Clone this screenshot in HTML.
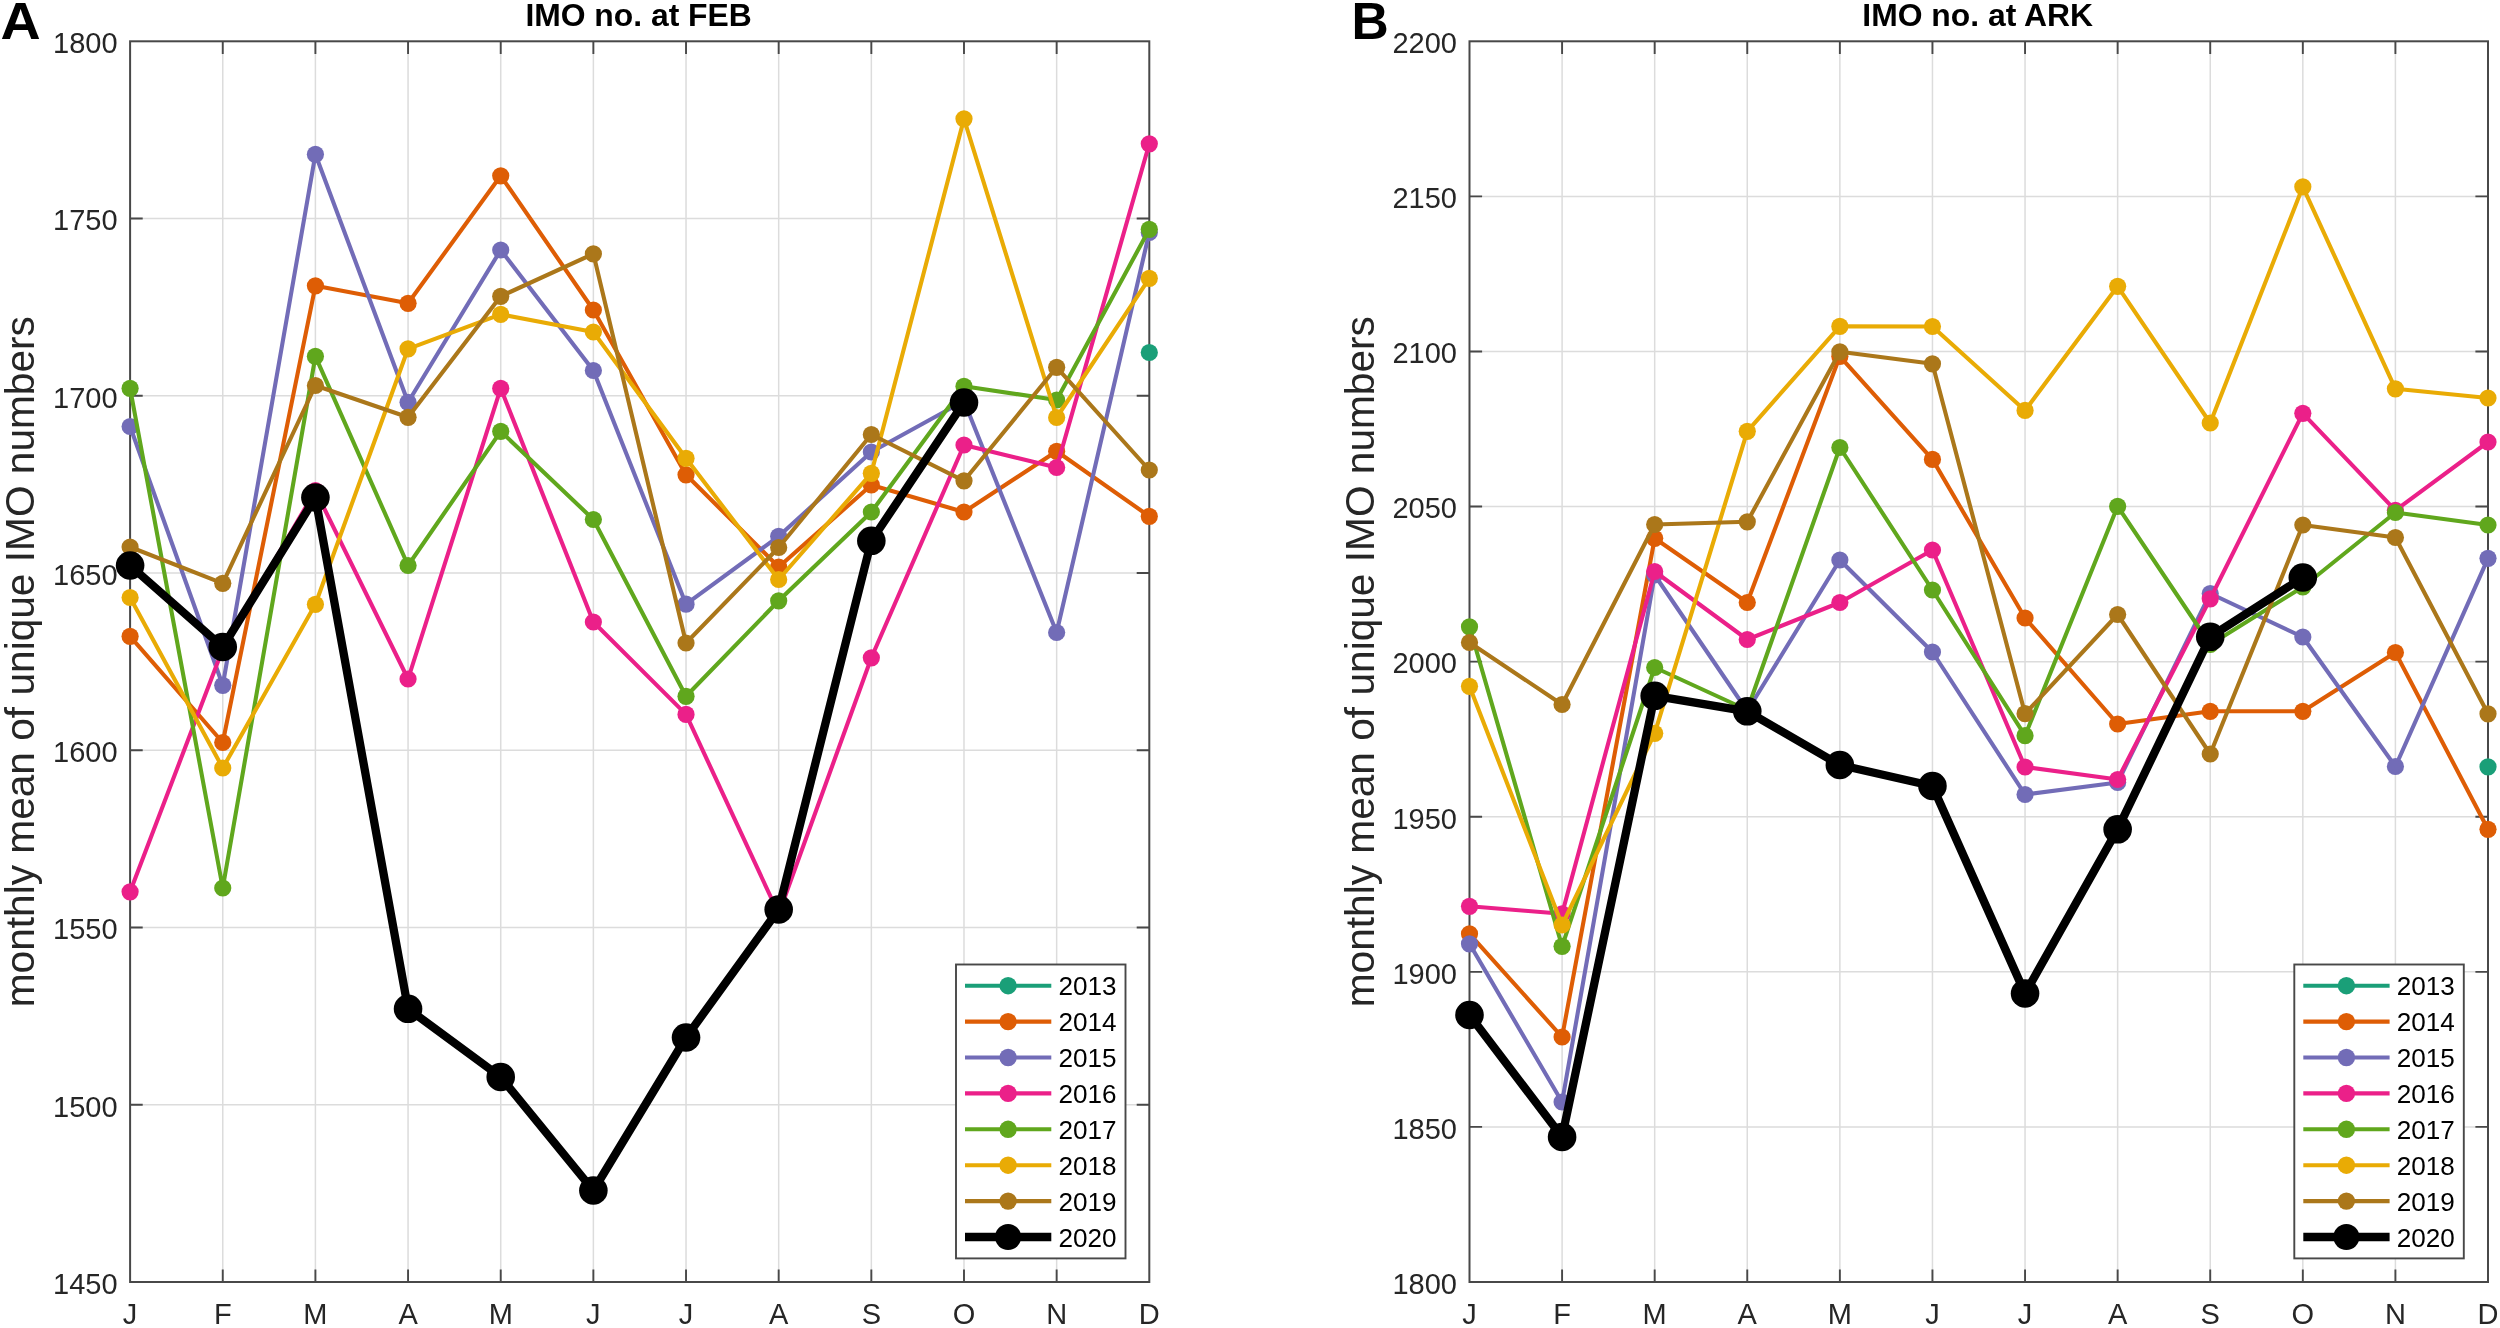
<!DOCTYPE html>
<html lang="en"><head><meta charset="utf-8"><title>IMO numbers at FEB and ARK</title>
<style>html,body{margin:0;padding:0;background:#fff}body{width:2500px;height:1328px;overflow:hidden}svg{display:block;filter:blur(0.55px)}</style>
</head><body>
<svg width="2500" height="1328" viewBox="0 0 2500 1328" font-family='"Liberation Sans", Arial, Helvetica, sans-serif'>
<rect width="2500" height="1328" fill="#fff"/>
<path d="M222.75 41.3V1282M315.41 41.3V1282M408.06 41.3V1282M500.72 41.3V1282M593.37 41.3V1282M686.03 41.3V1282M778.68 41.3V1282M871.34 41.3V1282M963.99 41.3V1282M1056.65 41.3V1282M130.1 218.54H1149.3M130.1 395.79H1149.3M130.1 573.03H1149.3M130.1 750.27H1149.3M130.1 927.51H1149.3M130.1 1104.76H1149.3" stroke="#dcdcdc" stroke-width="1.5" fill="none"/>
<path d="M222.75 1282v-12.6M222.75 41.3v12.6M315.41 1282v-12.6M315.41 41.3v12.6M408.06 1282v-12.6M408.06 41.3v12.6M500.72 1282v-12.6M500.72 41.3v12.6M593.37 1282v-12.6M593.37 41.3v12.6M686.03 1282v-12.6M686.03 41.3v12.6M778.68 1282v-12.6M778.68 41.3v12.6M871.34 1282v-12.6M871.34 41.3v12.6M963.99 1282v-12.6M963.99 41.3v12.6M1056.65 1282v-12.6M1056.65 41.3v12.6M130.1 218.54h12.6M1149.3 218.54h-12.6M130.1 395.79h12.6M1149.3 395.79h-12.6M130.1 573.03h12.6M1149.3 573.03h-12.6M130.1 750.27h12.6M1149.3 750.27h-12.6M130.1 927.51h12.6M1149.3 927.51h-12.6M130.1 1104.76h12.6M1149.3 1104.76h-12.6" stroke="#484848" stroke-width="1.9" fill="none"/>
<rect x="130.1" y="41.3" width="1019.2" height="1240.7" fill="none" stroke="#484848" stroke-width="2"/>
<g stroke="#1a9f78" fill="#1a9f78"><circle cx="1149.3" cy="352.5" r="8.6" stroke="none"/></g>
<g stroke="#de5d05" fill="#de5d05"><polyline points="130.1,636.3 222.75,742.5 315.41,285.8 408.06,303.3 500.72,175.8 593.37,310 686.03,474.8 778.68,567 871.34,485 963.99,512 1056.65,451.3 1149.3,516.3" fill="none" stroke-width="4.1" stroke-linejoin="round"/><circle cx="130.1" cy="636.3" r="8.6" stroke="none"/><circle cx="222.75" cy="742.5" r="8.6" stroke="none"/><circle cx="315.41" cy="285.8" r="8.6" stroke="none"/><circle cx="408.06" cy="303.3" r="8.6" stroke="none"/><circle cx="500.72" cy="175.8" r="8.6" stroke="none"/><circle cx="593.37" cy="310" r="8.6" stroke="none"/><circle cx="686.03" cy="474.8" r="8.6" stroke="none"/><circle cx="778.68" cy="567" r="8.6" stroke="none"/><circle cx="871.34" cy="485" r="8.6" stroke="none"/><circle cx="963.99" cy="512" r="8.6" stroke="none"/><circle cx="1056.65" cy="451.3" r="8.6" stroke="none"/><circle cx="1149.3" cy="516.3" r="8.6" stroke="none"/></g>
<g stroke="#726cb7" fill="#726cb7"><polyline points="130.1,426.5 222.75,685.3 315.41,154.3 408.06,402.3 500.72,250 593.37,370.5 686.03,604.2 778.68,536.3 871.34,452 963.99,401 1056.65,632.5 1149.3,232.5" fill="none" stroke-width="4.1" stroke-linejoin="round"/><circle cx="130.1" cy="426.5" r="8.6" stroke="none"/><circle cx="222.75" cy="685.3" r="8.6" stroke="none"/><circle cx="315.41" cy="154.3" r="8.6" stroke="none"/><circle cx="408.06" cy="402.3" r="8.6" stroke="none"/><circle cx="500.72" cy="250" r="8.6" stroke="none"/><circle cx="593.37" cy="370.5" r="8.6" stroke="none"/><circle cx="686.03" cy="604.2" r="8.6" stroke="none"/><circle cx="778.68" cy="536.3" r="8.6" stroke="none"/><circle cx="871.34" cy="452" r="8.6" stroke="none"/><circle cx="963.99" cy="401" r="8.6" stroke="none"/><circle cx="1056.65" cy="632.5" r="8.6" stroke="none"/><circle cx="1149.3" cy="232.5" r="8.6" stroke="none"/></g>
<g stroke="#eb2089" fill="#eb2089"><polyline points="130.1,891.8 222.75,649 315.41,490.5 408.06,679 500.72,388.3 593.37,622 686.03,714.4 778.68,914 871.34,657.8 963.99,445 1056.65,467.5 1149.3,143.8" fill="none" stroke-width="4.1" stroke-linejoin="round"/><circle cx="130.1" cy="891.8" r="8.6" stroke="none"/><circle cx="222.75" cy="649" r="8.6" stroke="none"/><circle cx="315.41" cy="490.5" r="8.6" stroke="none"/><circle cx="408.06" cy="679" r="8.6" stroke="none"/><circle cx="500.72" cy="388.3" r="8.6" stroke="none"/><circle cx="593.37" cy="622" r="8.6" stroke="none"/><circle cx="686.03" cy="714.4" r="8.6" stroke="none"/><circle cx="778.68" cy="914" r="8.6" stroke="none"/><circle cx="871.34" cy="657.8" r="8.6" stroke="none"/><circle cx="963.99" cy="445" r="8.6" stroke="none"/><circle cx="1056.65" cy="467.5" r="8.6" stroke="none"/><circle cx="1149.3" cy="143.8" r="8.6" stroke="none"/></g>
<g stroke="#60a71d" fill="#60a71d"><polyline points="130.1,388.3 222.75,888 315.41,356.3 408.06,565.5 500.72,431.3 593.37,519.5 686.03,696.3 778.68,600.8 871.34,512 963.99,386.3 1056.65,400 1149.3,229.3" fill="none" stroke-width="4.1" stroke-linejoin="round"/><circle cx="130.1" cy="388.3" r="8.6" stroke="none"/><circle cx="222.75" cy="888" r="8.6" stroke="none"/><circle cx="315.41" cy="356.3" r="8.6" stroke="none"/><circle cx="408.06" cy="565.5" r="8.6" stroke="none"/><circle cx="500.72" cy="431.3" r="8.6" stroke="none"/><circle cx="593.37" cy="519.5" r="8.6" stroke="none"/><circle cx="686.03" cy="696.3" r="8.6" stroke="none"/><circle cx="778.68" cy="600.8" r="8.6" stroke="none"/><circle cx="871.34" cy="512" r="8.6" stroke="none"/><circle cx="963.99" cy="386.3" r="8.6" stroke="none"/><circle cx="1056.65" cy="400" r="8.6" stroke="none"/><circle cx="1149.3" cy="229.3" r="8.6" stroke="none"/></g>
<g stroke="#e9ab05" fill="#e9ab05"><polyline points="130.1,597.5 222.75,768 315.41,604.3 408.06,348.8 500.72,314.3 593.37,332 686.03,458.3 778.68,579.5 871.34,473.3 963.99,118.8 1056.65,417.5 1149.3,278.3" fill="none" stroke-width="4.1" stroke-linejoin="round"/><circle cx="130.1" cy="597.5" r="8.6" stroke="none"/><circle cx="222.75" cy="768" r="8.6" stroke="none"/><circle cx="315.41" cy="604.3" r="8.6" stroke="none"/><circle cx="408.06" cy="348.8" r="8.6" stroke="none"/><circle cx="500.72" cy="314.3" r="8.6" stroke="none"/><circle cx="593.37" cy="332" r="8.6" stroke="none"/><circle cx="686.03" cy="458.3" r="8.6" stroke="none"/><circle cx="778.68" cy="579.5" r="8.6" stroke="none"/><circle cx="871.34" cy="473.3" r="8.6" stroke="none"/><circle cx="963.99" cy="118.8" r="8.6" stroke="none"/><circle cx="1056.65" cy="417.5" r="8.6" stroke="none"/><circle cx="1149.3" cy="278.3" r="8.6" stroke="none"/></g>
<g stroke="#ab771a" fill="#ab771a"><polyline points="130.1,547 222.75,583.3 315.41,385.5 408.06,417.3 500.72,296.3 593.37,253.8 686.03,643 778.68,547.5 871.34,434.5 963.99,480.8 1056.65,367.3 1149.3,470" fill="none" stroke-width="4.1" stroke-linejoin="round"/><circle cx="130.1" cy="547" r="8.6" stroke="none"/><circle cx="222.75" cy="583.3" r="8.6" stroke="none"/><circle cx="315.41" cy="385.5" r="8.6" stroke="none"/><circle cx="408.06" cy="417.3" r="8.6" stroke="none"/><circle cx="500.72" cy="296.3" r="8.6" stroke="none"/><circle cx="593.37" cy="253.8" r="8.6" stroke="none"/><circle cx="686.03" cy="643" r="8.6" stroke="none"/><circle cx="778.68" cy="547.5" r="8.6" stroke="none"/><circle cx="871.34" cy="434.5" r="8.6" stroke="none"/><circle cx="963.99" cy="480.8" r="8.6" stroke="none"/><circle cx="1056.65" cy="367.3" r="8.6" stroke="none"/><circle cx="1149.3" cy="470" r="8.6" stroke="none"/></g>
<g stroke="#000000" fill="#000000"><polyline points="130.1,565.5 222.75,647 315.41,497.5 408.06,1008.8 500.72,1077 593.37,1190.5 686.03,1037.5 778.68,909.5 871.34,540.8 963.99,402.5" fill="none" stroke-width="8.3" stroke-linejoin="round"/><circle cx="130.1" cy="565.5" r="14.3" stroke="none"/><circle cx="222.75" cy="647" r="14.3" stroke="none"/><circle cx="315.41" cy="497.5" r="14.3" stroke="none"/><circle cx="408.06" cy="1008.8" r="14.3" stroke="none"/><circle cx="500.72" cy="1077" r="14.3" stroke="none"/><circle cx="593.37" cy="1190.5" r="14.3" stroke="none"/><circle cx="686.03" cy="1037.5" r="14.3" stroke="none"/><circle cx="778.68" cy="909.5" r="14.3" stroke="none"/><circle cx="871.34" cy="540.8" r="14.3" stroke="none"/><circle cx="963.99" cy="402.5" r="14.3" stroke="none"/></g>
<g font-size="29.0" fill="#262626"><text x="117.6" y="53.1" text-anchor="end">1800</text><text x="117.6" y="230.34" text-anchor="end">1750</text><text x="117.6" y="407.59" text-anchor="end">1700</text><text x="117.6" y="584.83" text-anchor="end">1650</text><text x="117.6" y="762.07" text-anchor="end">1600</text><text x="117.6" y="939.31" text-anchor="end">1550</text><text x="117.6" y="1116.56" text-anchor="end">1500</text><text x="117.6" y="1293.8" text-anchor="end">1450</text><text x="130.1" y="1324" text-anchor="middle">J</text><text x="222.75" y="1324" text-anchor="middle">F</text><text x="315.41" y="1324" text-anchor="middle">M</text><text x="408.06" y="1324" text-anchor="middle">A</text><text x="500.72" y="1324" text-anchor="middle">M</text><text x="593.37" y="1324" text-anchor="middle">J</text><text x="686.03" y="1324" text-anchor="middle">J</text><text x="778.68" y="1324" text-anchor="middle">A</text><text x="871.34" y="1324" text-anchor="middle">S</text><text x="963.99" y="1324" text-anchor="middle">O</text><text x="1056.65" y="1324" text-anchor="middle">N</text><text x="1149.3" y="1324" text-anchor="middle">D</text></g>
<text x="638.6" y="25.9" text-anchor="middle" font-size="31.85" font-weight="bold" fill="#000">IMO no. at FEB</text>
<text transform="translate(34.1 661.7) rotate(-90)" text-anchor="middle" font-size="40.65" fill="#262626">monthly mean of unique IMO numbers</text>
<text transform="translate(0.4 39.4) scale(1.058 1)" font-size="52.6" font-weight="bold" fill="#000">A</text>
<rect x="956" y="964.5" width="169.5" height="293.9" fill="#fff" stroke="#484848" stroke-width="1.9"/>
<g font-size="26.1" fill="#000"><path d="M965 985.7H1051.3" stroke="#1a9f78" stroke-width="4.1"/><circle cx="1008.1" cy="985.7" r="8.7" fill="#1a9f78"/><text x="1058.5" y="995.3">2013</text><path d="M965 1021.6H1051.3" stroke="#de5d05" stroke-width="4.1"/><circle cx="1008.1" cy="1021.6" r="8.7" fill="#de5d05"/><text x="1058.5" y="1031.2">2014</text><path d="M965 1057.5H1051.3" stroke="#726cb7" stroke-width="4.1"/><circle cx="1008.1" cy="1057.5" r="8.7" fill="#726cb7"/><text x="1058.5" y="1067.1">2015</text><path d="M965 1093.4H1051.3" stroke="#eb2089" stroke-width="4.1"/><circle cx="1008.1" cy="1093.4" r="8.7" fill="#eb2089"/><text x="1058.5" y="1103">2016</text><path d="M965 1129.3H1051.3" stroke="#60a71d" stroke-width="4.1"/><circle cx="1008.1" cy="1129.3" r="8.7" fill="#60a71d"/><text x="1058.5" y="1138.9">2017</text><path d="M965 1165.2H1051.3" stroke="#e9ab05" stroke-width="4.1"/><circle cx="1008.1" cy="1165.2" r="8.7" fill="#e9ab05"/><text x="1058.5" y="1174.8">2018</text><path d="M965 1201.1H1051.3" stroke="#ab771a" stroke-width="4.1"/><circle cx="1008.1" cy="1201.1" r="8.7" fill="#ab771a"/><text x="1058.5" y="1210.7">2019</text><path d="M965 1237H1051.3" stroke="#000000" stroke-width="8.3"/><circle cx="1008.1" cy="1237" r="13.0" fill="#000000"/><text x="1058.5" y="1246.6">2020</text></g>
<path d="M1562.09 41.3V1282M1654.68 41.3V1282M1747.27 41.3V1282M1839.86 41.3V1282M1932.45 41.3V1282M2025.05 41.3V1282M2117.64 41.3V1282M2210.23 41.3V1282M2302.82 41.3V1282M2395.41 41.3V1282M1469.5 196.39H2488M1469.5 351.48H2488M1469.5 506.56H2488M1469.5 661.65H2488M1469.5 816.74H2488M1469.5 971.83H2488M1469.5 1126.91H2488" stroke="#dcdcdc" stroke-width="1.5" fill="none"/>
<path d="M1562.09 1282v-12.6M1562.09 41.3v12.6M1654.68 1282v-12.6M1654.68 41.3v12.6M1747.27 1282v-12.6M1747.27 41.3v12.6M1839.86 1282v-12.6M1839.86 41.3v12.6M1932.45 1282v-12.6M1932.45 41.3v12.6M2025.05 1282v-12.6M2025.05 41.3v12.6M2117.64 1282v-12.6M2117.64 41.3v12.6M2210.23 1282v-12.6M2210.23 41.3v12.6M2302.82 1282v-12.6M2302.82 41.3v12.6M2395.41 1282v-12.6M2395.41 41.3v12.6M1469.5 196.39h12.6M2488 196.39h-12.6M1469.5 351.48h12.6M2488 351.48h-12.6M1469.5 506.56h12.6M2488 506.56h-12.6M1469.5 661.65h12.6M2488 661.65h-12.6M1469.5 816.74h12.6M2488 816.74h-12.6M1469.5 971.83h12.6M2488 971.83h-12.6M1469.5 1126.91h12.6M2488 1126.91h-12.6" stroke="#484848" stroke-width="1.9" fill="none"/>
<rect x="1469.5" y="41.3" width="1018.5" height="1240.7" fill="none" stroke="#484848" stroke-width="2"/>
<g stroke="#1a9f78" fill="#1a9f78"><circle cx="2488" cy="766.8" r="8.6" stroke="none"/></g>
<g stroke="#de5d05" fill="#de5d05"><polyline points="1469.5,933.8 1562.09,1037 1654.68,538.3 1747.27,602.5 1839.86,356.3 1932.45,459.4 2025.05,618 2117.64,724 2210.23,711.3 2302.82,711.3 2395.41,652.5 2488,829.3" fill="none" stroke-width="4.1" stroke-linejoin="round"/><circle cx="1469.5" cy="933.8" r="8.6" stroke="none"/><circle cx="1562.09" cy="1037" r="8.6" stroke="none"/><circle cx="1654.68" cy="538.3" r="8.6" stroke="none"/><circle cx="1747.27" cy="602.5" r="8.6" stroke="none"/><circle cx="1839.86" cy="356.3" r="8.6" stroke="none"/><circle cx="1932.45" cy="459.4" r="8.6" stroke="none"/><circle cx="2025.05" cy="618" r="8.6" stroke="none"/><circle cx="2117.64" cy="724" r="8.6" stroke="none"/><circle cx="2210.23" cy="711.3" r="8.6" stroke="none"/><circle cx="2302.82" cy="711.3" r="8.6" stroke="none"/><circle cx="2395.41" cy="652.5" r="8.6" stroke="none"/><circle cx="2488" cy="829.3" r="8.6" stroke="none"/></g>
<g stroke="#726cb7" fill="#726cb7"><polyline points="1469.5,943.8 1562.09,1102 1654.68,575 1747.27,711 1839.86,560 1932.45,652 2025.05,794.5 2117.64,782.5 2210.23,593.5 2302.82,637 2395.41,766.5 2488,558.3" fill="none" stroke-width="4.1" stroke-linejoin="round"/><circle cx="1469.5" cy="943.8" r="8.6" stroke="none"/><circle cx="1562.09" cy="1102" r="8.6" stroke="none"/><circle cx="1654.68" cy="575" r="8.6" stroke="none"/><circle cx="1747.27" cy="711" r="8.6" stroke="none"/><circle cx="1839.86" cy="560" r="8.6" stroke="none"/><circle cx="1932.45" cy="652" r="8.6" stroke="none"/><circle cx="2025.05" cy="794.5" r="8.6" stroke="none"/><circle cx="2117.64" cy="782.5" r="8.6" stroke="none"/><circle cx="2210.23" cy="593.5" r="8.6" stroke="none"/><circle cx="2302.82" cy="637" r="8.6" stroke="none"/><circle cx="2395.41" cy="766.5" r="8.6" stroke="none"/><circle cx="2488" cy="558.3" r="8.6" stroke="none"/></g>
<g stroke="#eb2089" fill="#eb2089"><polyline points="1469.5,906.3 1562.09,913.8 1654.68,571.5 1747.27,639.5 1839.86,602.5 1932.45,550 2025.05,767 2117.64,779.5 2210.23,598.8 2302.82,413.3 2395.41,510.3 2488,442" fill="none" stroke-width="4.1" stroke-linejoin="round"/><circle cx="1469.5" cy="906.3" r="8.6" stroke="none"/><circle cx="1562.09" cy="913.8" r="8.6" stroke="none"/><circle cx="1654.68" cy="571.5" r="8.6" stroke="none"/><circle cx="1747.27" cy="639.5" r="8.6" stroke="none"/><circle cx="1839.86" cy="602.5" r="8.6" stroke="none"/><circle cx="1932.45" cy="550" r="8.6" stroke="none"/><circle cx="2025.05" cy="767" r="8.6" stroke="none"/><circle cx="2117.64" cy="779.5" r="8.6" stroke="none"/><circle cx="2210.23" cy="598.8" r="8.6" stroke="none"/><circle cx="2302.82" cy="413.3" r="8.6" stroke="none"/><circle cx="2395.41" cy="510.3" r="8.6" stroke="none"/><circle cx="2488" cy="442" r="8.6" stroke="none"/></g>
<g stroke="#60a71d" fill="#60a71d"><polyline points="1469.5,626.8 1562.09,946.3 1654.68,667.5 1747.27,710 1839.86,447.5 1932.45,590 2025.05,735.7 2117.64,506.3 2210.23,644.5 2302.82,587 2395.41,512.5 2488,525" fill="none" stroke-width="4.1" stroke-linejoin="round"/><circle cx="1469.5" cy="626.8" r="8.6" stroke="none"/><circle cx="1562.09" cy="946.3" r="8.6" stroke="none"/><circle cx="1654.68" cy="667.5" r="8.6" stroke="none"/><circle cx="1747.27" cy="710" r="8.6" stroke="none"/><circle cx="1839.86" cy="447.5" r="8.6" stroke="none"/><circle cx="1932.45" cy="590" r="8.6" stroke="none"/><circle cx="2025.05" cy="735.7" r="8.6" stroke="none"/><circle cx="2117.64" cy="506.3" r="8.6" stroke="none"/><circle cx="2210.23" cy="644.5" r="8.6" stroke="none"/><circle cx="2302.82" cy="587" r="8.6" stroke="none"/><circle cx="2395.41" cy="512.5" r="8.6" stroke="none"/><circle cx="2488" cy="525" r="8.6" stroke="none"/></g>
<g stroke="#e9ab05" fill="#e9ab05"><polyline points="1469.5,686.3 1562.09,925 1654.68,733.3 1747.27,431.3 1839.86,326.3 1932.45,326.5 2025.05,410.4 2117.64,286.3 2210.23,423 2302.82,186.8 2395.41,388.8 2488,398" fill="none" stroke-width="4.1" stroke-linejoin="round"/><circle cx="1469.5" cy="686.3" r="8.6" stroke="none"/><circle cx="1562.09" cy="925" r="8.6" stroke="none"/><circle cx="1654.68" cy="733.3" r="8.6" stroke="none"/><circle cx="1747.27" cy="431.3" r="8.6" stroke="none"/><circle cx="1839.86" cy="326.3" r="8.6" stroke="none"/><circle cx="1932.45" cy="326.5" r="8.6" stroke="none"/><circle cx="2025.05" cy="410.4" r="8.6" stroke="none"/><circle cx="2117.64" cy="286.3" r="8.6" stroke="none"/><circle cx="2210.23" cy="423" r="8.6" stroke="none"/><circle cx="2302.82" cy="186.8" r="8.6" stroke="none"/><circle cx="2395.41" cy="388.8" r="8.6" stroke="none"/><circle cx="2488" cy="398" r="8.6" stroke="none"/></g>
<g stroke="#ab771a" fill="#ab771a"><polyline points="1469.5,642.5 1562.09,704.5 1654.68,524.5 1747.27,521.8 1839.86,351.8 1932.45,363.8 2025.05,713.7 2117.64,614.5 2210.23,754 2302.82,525 2395.41,537.5 2488,713.8" fill="none" stroke-width="4.1" stroke-linejoin="round"/><circle cx="1469.5" cy="642.5" r="8.6" stroke="none"/><circle cx="1562.09" cy="704.5" r="8.6" stroke="none"/><circle cx="1654.68" cy="524.5" r="8.6" stroke="none"/><circle cx="1747.27" cy="521.8" r="8.6" stroke="none"/><circle cx="1839.86" cy="351.8" r="8.6" stroke="none"/><circle cx="1932.45" cy="363.8" r="8.6" stroke="none"/><circle cx="2025.05" cy="713.7" r="8.6" stroke="none"/><circle cx="2117.64" cy="614.5" r="8.6" stroke="none"/><circle cx="2210.23" cy="754" r="8.6" stroke="none"/><circle cx="2302.82" cy="525" r="8.6" stroke="none"/><circle cx="2395.41" cy="537.5" r="8.6" stroke="none"/><circle cx="2488" cy="713.8" r="8.6" stroke="none"/></g>
<g stroke="#000000" fill="#000000"><polyline points="1469.5,1015 1562.09,1137 1654.68,695.8 1747.27,711.3 1839.86,765 1932.45,786 2025.05,993.5 2117.64,829.3 2210.23,636.8 2302.82,577.5" fill="none" stroke-width="8.3" stroke-linejoin="round"/><circle cx="1469.5" cy="1015" r="14.3" stroke="none"/><circle cx="1562.09" cy="1137" r="14.3" stroke="none"/><circle cx="1654.68" cy="695.8" r="14.3" stroke="none"/><circle cx="1747.27" cy="711.3" r="14.3" stroke="none"/><circle cx="1839.86" cy="765" r="14.3" stroke="none"/><circle cx="1932.45" cy="786" r="14.3" stroke="none"/><circle cx="2025.05" cy="993.5" r="14.3" stroke="none"/><circle cx="2117.64" cy="829.3" r="14.3" stroke="none"/><circle cx="2210.23" cy="636.8" r="14.3" stroke="none"/><circle cx="2302.82" cy="577.5" r="14.3" stroke="none"/></g>
<g font-size="29.0" fill="#262626"><text x="1457" y="53.1" text-anchor="end">2200</text><text x="1457" y="208.19" text-anchor="end">2150</text><text x="1457" y="363.28" text-anchor="end">2100</text><text x="1457" y="518.36" text-anchor="end">2050</text><text x="1457" y="673.45" text-anchor="end">2000</text><text x="1457" y="828.54" text-anchor="end">1950</text><text x="1457" y="983.62" text-anchor="end">1900</text><text x="1457" y="1138.71" text-anchor="end">1850</text><text x="1457" y="1293.8" text-anchor="end">1800</text><text x="1469.5" y="1324" text-anchor="middle">J</text><text x="1562.09" y="1324" text-anchor="middle">F</text><text x="1654.68" y="1324" text-anchor="middle">M</text><text x="1747.27" y="1324" text-anchor="middle">A</text><text x="1839.86" y="1324" text-anchor="middle">M</text><text x="1932.45" y="1324" text-anchor="middle">J</text><text x="2025.05" y="1324" text-anchor="middle">J</text><text x="2117.64" y="1324" text-anchor="middle">A</text><text x="2210.23" y="1324" text-anchor="middle">S</text><text x="2302.82" y="1324" text-anchor="middle">O</text><text x="2395.41" y="1324" text-anchor="middle">N</text><text x="2488" y="1324" text-anchor="middle">D</text></g>
<text x="1977.65" y="25.9" text-anchor="middle" font-size="31.85" font-weight="bold" fill="#000">IMO no. at ARK</text>
<text transform="translate(1374.1 661.7) rotate(-90)" text-anchor="middle" font-size="40.65" fill="#262626">monthly mean of unique IMO numbers</text>
<text transform="translate(1351.5 39.4) scale(0.98 1)" font-size="52.6" font-weight="bold" fill="#000">B</text>
<rect x="2294.3" y="964.5" width="169.5" height="293.9" fill="#fff" stroke="#484848" stroke-width="1.9"/>
<g font-size="26.1" fill="#000"><path d="M2303.3 985.7H2389.6" stroke="#1a9f78" stroke-width="4.1"/><circle cx="2346.4" cy="985.7" r="8.7" fill="#1a9f78"/><text x="2396.8" y="995.3">2013</text><path d="M2303.3 1021.6H2389.6" stroke="#de5d05" stroke-width="4.1"/><circle cx="2346.4" cy="1021.6" r="8.7" fill="#de5d05"/><text x="2396.8" y="1031.2">2014</text><path d="M2303.3 1057.5H2389.6" stroke="#726cb7" stroke-width="4.1"/><circle cx="2346.4" cy="1057.5" r="8.7" fill="#726cb7"/><text x="2396.8" y="1067.1">2015</text><path d="M2303.3 1093.4H2389.6" stroke="#eb2089" stroke-width="4.1"/><circle cx="2346.4" cy="1093.4" r="8.7" fill="#eb2089"/><text x="2396.8" y="1103">2016</text><path d="M2303.3 1129.3H2389.6" stroke="#60a71d" stroke-width="4.1"/><circle cx="2346.4" cy="1129.3" r="8.7" fill="#60a71d"/><text x="2396.8" y="1138.9">2017</text><path d="M2303.3 1165.2H2389.6" stroke="#e9ab05" stroke-width="4.1"/><circle cx="2346.4" cy="1165.2" r="8.7" fill="#e9ab05"/><text x="2396.8" y="1174.8">2018</text><path d="M2303.3 1201.1H2389.6" stroke="#ab771a" stroke-width="4.1"/><circle cx="2346.4" cy="1201.1" r="8.7" fill="#ab771a"/><text x="2396.8" y="1210.7">2019</text><path d="M2303.3 1237H2389.6" stroke="#000000" stroke-width="8.3"/><circle cx="2346.4" cy="1237" r="13.0" fill="#000000"/><text x="2396.8" y="1246.6">2020</text></g>
</svg>
</body></html>
